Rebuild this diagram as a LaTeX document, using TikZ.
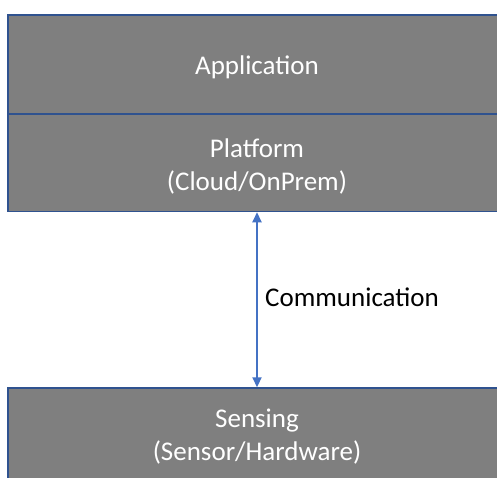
\documentclass[tikz,border=0pt]{standalone}
\usepackage{fontspec}
\setmainfont{Carlito}
\usetikzlibrary{arrows.meta}
\definecolor{boxfill}{HTML}{7F7F7F}
\definecolor{boxline}{HTML}{2F528F}
\definecolor{arrowblue}{HTML}{4472C4}
\tikzset{
  layer/.style={draw=boxline, line width=1.5pt, fill=boxfill,
    minimum width=498pt, inner sep=0pt},
  layertext/.style={text=white, align=center, inner sep=0pt,
    font=\fontsize{27}{33}\selectfont},
  comm/.style={draw=arrowblue, line width=2.2pt, {Triangle[length=10pt,width=9pt]}-{Triangle[length=10pt,width=9pt]}},
  lbl/.style={font=\fontsize{27}{33}\selectfont, text=black, inner sep=0pt}
}
\begin{document}
\begin{tikzpicture}[x=1pt,y=-1pt]
\clip (0,0) rectangle (497,477);
\node[layer, minimum height=99pt] (app) at (257,64.5) {};
\node[layer, minimum height=97.5pt] (plat) at (257,162.75) {};
\node[layer, minimum height=91pt] (sens) at (257,433.5) {};
\node[layertext] (apptext) at (257,67.5) {Application};
\node[layertext] (plattext) at (257,166.5) {Platform\\(Cloud/OnPrem)};
\node[layertext] (senstext) at (257,436.5) {Sensing\\(Sensor/Hardware)};
\draw[comm] (plat.south) -- (sens.north);
\node[lbl, anchor=west] (commlbl) at (265,297) {Communication};
\end{tikzpicture}
\end{document}
